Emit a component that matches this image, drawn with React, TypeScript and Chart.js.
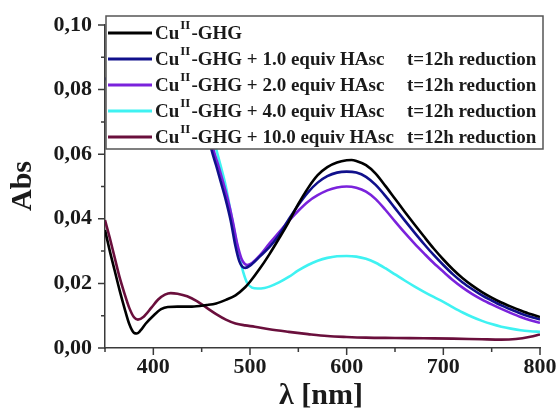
import { useEffect, useRef } from "react";
import { Chart, registerables } from "chart.js";

Chart.register(...registerables);

// ---- data (wavelength in nm, absorbance) ----
const blackX = [350, 355, 360, 365, 370, 375, 380, 383, 387, 392, 400, 408, 415, 425, 440, 455, 465, 475, 485, 495, 500, 510, 520, 530, 540, 550, 560, 570, 580, 590, 600, 605, 610, 620, 630, 640, 650, 660, 670, 680, 690, 700, 710, 720, 730, 740, 750, 760, 770, 780, 790, 800];
const blackY = [0.0365, 0.030, 0.024, 0.018, 0.0125, 0.0075, 0.0047, 0.0045, 0.0055, 0.0075, 0.0100, 0.0120, 0.0127, 0.0128, 0.0128, 0.0133, 0.0138, 0.0149, 0.0163, 0.0188, 0.0205, 0.0245, 0.0290, 0.0339, 0.0390, 0.0446, 0.0495, 0.0535, 0.0560, 0.0574, 0.0581, 0.0582, 0.0579, 0.0566, 0.0540, 0.0502, 0.0462, 0.0422, 0.0383, 0.0345, 0.0308, 0.0274, 0.0243, 0.0216, 0.0193, 0.0173, 0.0156, 0.0141, 0.0128, 0.0116, 0.0105, 0.0096];

const blueX = [350, 370, 400, 430, 450, 460, 465, 470, 475, 480, 485, 489, 492, 495, 500, 510, 520, 530, 540, 550, 560, 570, 580, 590, 600, 610, 620, 630, 640, 650, 660, 670, 680, 690, 700, 710, 720, 730, 740, 750, 760, 770, 780, 790, 800];
const blueY = [0.083, 0.090, 0.097, 0.094, 0.076, 0.0616, 0.0565, 0.0512, 0.0458, 0.0395, 0.0315, 0.0268, 0.0252, 0.0248, 0.0255, 0.0283, 0.0312, 0.0350, 0.0398, 0.0443, 0.0482, 0.0512, 0.0532, 0.0543, 0.0546, 0.0543, 0.0530, 0.0505, 0.0471, 0.0433, 0.0395, 0.0358, 0.0322, 0.0288, 0.0257, 0.0228, 0.0203, 0.0182, 0.0163, 0.0147, 0.0132, 0.0119, 0.0107, 0.0097, 0.0088];

const purpleX = [350, 400, 440, 455, 462, 467, 472, 477, 482, 487, 491, 494, 497, 502, 510, 520, 530, 540, 550, 560, 570, 580, 590, 600, 610, 620, 630, 640, 650, 660, 670, 680, 690, 700, 710, 720, 730, 740, 750, 760, 770, 780, 790, 800];
const purpleY = [0.105, 0.110, 0.095, 0.072, 0.0616, 0.0568, 0.0515, 0.0460, 0.0395, 0.0320, 0.0278, 0.0262, 0.0257, 0.0263, 0.0286, 0.0323, 0.0358, 0.0393, 0.0425, 0.0453, 0.0473, 0.0488, 0.0497, 0.0500, 0.0496, 0.0484, 0.0461, 0.0428, 0.0392, 0.0357, 0.0324, 0.0293, 0.0263, 0.0236, 0.0210, 0.0187, 0.0167, 0.0150, 0.0135, 0.0121, 0.0108, 0.0096, 0.0086, 0.0078];

const cyanX = [350, 400, 440, 455, 465, 470, 475, 479, 484, 489, 493, 497, 502, 508, 515, 520, 530, 540, 550, 560, 570, 580, 590, 600, 610, 620, 630, 640, 650, 660, 670, 680, 690, 700, 710, 720, 730, 740, 750, 760, 770, 780, 790, 800];
const cyanY = [0.120, 0.115, 0.090, 0.073, 0.0616, 0.0560, 0.0500, 0.0437, 0.0360, 0.0283, 0.0235, 0.0202, 0.0187, 0.0184, 0.0186, 0.0190, 0.0203, 0.0220, 0.0240, 0.0257, 0.0270, 0.0279, 0.0284, 0.0285, 0.0283, 0.0276, 0.0264, 0.0247, 0.0228, 0.0209, 0.0191, 0.0174, 0.0158, 0.0143, 0.0126, 0.0110, 0.0096, 0.0084, 0.0074, 0.0066, 0.0060, 0.0055, 0.0052, 0.0050];

const maroonX = [350, 355, 360, 365, 370, 375, 380, 384, 390, 398, 405, 412, 418, 425, 435, 445, 455, 465, 475, 485, 495, 505, 520, 540, 560, 580, 600, 620, 650, 680, 710, 740, 760, 775, 790, 800];
const maroonY = [0.0396, 0.034, 0.028, 0.022, 0.017, 0.0125, 0.0095, 0.0088, 0.0097, 0.0125, 0.0150, 0.0165, 0.0170, 0.0168, 0.0160, 0.0145, 0.0125, 0.0105, 0.0088, 0.0076, 0.0070, 0.0066, 0.0058, 0.0050, 0.0043, 0.0037, 0.0034, 0.0032, 0.0031, 0.0030, 0.0029, 0.0027, 0.0026, 0.0028, 0.0035, 0.0042];

const seriesX = [blackX, blueX, purpleX, cyanX, maroonX];
const seriesY = [blackY, blueY, purpleY, cyanY, maroonY];
const seriesColors = ["#000000", "#10108c", "#7a22dc", "#3ff2f2", "#6a0f3c"];
const seriesNames = [
  "-GHG",
  "-GHG + 1.0 equiv HAsc",
  "-GHG + 2.0 equiv HAsc",
  "-GHG + 4.0 equiv HAsc",
  "-GHG + 10.0 equiv HAsc",
];
const seriesNotes = ["", "t=12h reduction", "t=12h reduction", "t=12h reduction", "t=12h reduction"];

const xMajorTicks = [400, 500, 600, 700, 800];
const xMinorTicks = [350, 450, 550, 650, 750];
const yMajorTicks = [0, 0.02, 0.04, 0.06, 0.08, 0.1];
const yMinorTicks = [0.01, 0.03, 0.05, 0.07, 0.09];

const FONT = "'Liberation Serif', 'Times New Roman', serif";
const AXIS = "#3a3a3a";
const TEXT = "#1a1a1a";

const decorPlugin = {
  id: "decor",
  afterDraw(chart: any) {
    const ctx = chart.ctx as CanvasRenderingContext2D;
    const xs = chart.scales.x;
    const ys = chart.scales.y;
    const { left, bottom } = chart.chartArea;
    ctx.save();
    // tick marks
    ctx.strokeStyle = AXIS;
    ctx.lineWidth = 1.5;
    ctx.beginPath();
    yMajorTicks.forEach((v) => {
      const y = ys.getPixelForValue(v);
      ctx.moveTo(left - 7, y);
      ctx.lineTo(left, y);
    });
    yMinorTicks.forEach((v) => {
      const y = ys.getPixelForValue(v);
      ctx.moveTo(left - 4, y);
      ctx.lineTo(left, y);
    });
    xMajorTicks.forEach((v) => {
      const x = xs.getPixelForValue(v);
      ctx.moveTo(x, bottom);
      ctx.lineTo(x, bottom + 7);
    });
    xMinorTicks.forEach((v) => {
      const x = xs.getPixelForValue(v);
      ctx.moveTo(x, bottom);
      ctx.lineTo(x, bottom + 4);
    });
    ctx.stroke();

    // axis titles
    ctx.fillStyle = TEXT;
    ctx.font = `bold 30px ${FONT}`;
    ctx.textAlign = "center";
    ctx.textBaseline = "middle";
    ctx.fillText("\u03bb [nm]", 321, 396);
    ctx.save();
    ctx.translate(23, 186);
    ctx.rotate(-Math.PI / 2);
    ctx.fillText("Abs", 0, 0);
    ctx.restore();

    // legend box
    const bL = 106, bT = 16, bR = 543, bB = 149;
    ctx.fillStyle = "#ffffff";
    ctx.fillRect(bL, bT, bR - bL, bB - bT);
    ctx.strokeStyle = "#555555";
    ctx.lineWidth = 1.5;
    ctx.strokeRect(bL, bT, bR - bL, bB - bT);
    seriesNames.forEach((name, i) => {
      const y = 33 + i * 26;
      ctx.strokeStyle = seriesColors[i];
      ctx.lineWidth = 3;
      ctx.beginPath();
      ctx.moveTo(108, y);
      ctx.lineTo(152, y);
      ctx.stroke();
      ctx.fillStyle = TEXT;
      ctx.textAlign = "left";
      ctx.textBaseline = "middle";
      let x = 155;
      ctx.font = `bold 19px ${FONT}`;
      ctx.fillText("Cu", x, y + 1);
      x += ctx.measureText("Cu").width + 1;
      ctx.font = `bold 13px ${FONT}`;
      ctx.fillText("II", x, y - 7);
      x += ctx.measureText("II").width + 1;
      ctx.font = `bold 19px ${FONT}`;
      ctx.fillText(name, x, y + 1);
      if (seriesNotes[i]) ctx.fillText(seriesNotes[i], 407, y + 1);
    });
    ctx.restore();
  },
};

export default function App() {
  const ref = useRef<HTMLCanvasElement>(null);
  useEffect(() => {
    if (!ref.current) return;
    const chart = new Chart(ref.current, {
      type: "line",
      data: {
        datasets: seriesY.map((ys, i) => ({
          label: seriesNames[i],
          data: ys.map((v, j) => ({ x: seriesX[i][j], y: v })),
          borderColor: seriesColors[i],
          backgroundColor: seriesColors[i],
          borderWidth: 2.6,
          pointRadius: 0,
          cubicInterpolationMode: "monotone" as const,
          fill: false,
        })),
      },
      options: {
        responsive: false,
        animation: false,
        devicePixelRatio: 1,
        layout: { padding: { top: 25, right: 19, left: 0, bottom: 0 } },
        plugins: { legend: { display: false }, tooltip: { enabled: false } },
        scales: {
          x: {
            type: "linear",
            min: 350,
            max: 800,
            grid: { display: false, drawTicks: false },
            border: { display: true, color: AXIS, width: 1.5 },
            afterBuildTicks: (s: any) => {
              s.ticks = xMajorTicks.map((v) => ({ value: v }));
            },
            afterFit: (s: any) => {
              s.height = 62;
              s.paddingLeft = 0;
              s.paddingRight = 0;
            },
            ticks: {
              color: TEXT,
              font: { family: FONT, weight: "bold", size: 22 },
              padding: 6,
              maxRotation: 0,
              callback: (v: any) => String(v),
            },
          },
          y: {
            type: "linear",
            min: 0,
            max: 0.1,
            grid: { display: false, drawTicks: false },
            border: { display: true, color: AXIS, width: 1.5 },
            afterBuildTicks: (s: any) => {
              s.ticks = yMajorTicks.map((v) => ({ value: v }));
            },
            afterFit: (s: any) => {
              s.width = 105;
              s.paddingTop = 0;
              s.paddingBottom = 0;
            },
            ticks: {
              color: TEXT,
              font: { family: FONT, weight: "bold", size: 22 },
              padding: 13,
              callback: (v: any) => Number(v).toFixed(2).replace(".", ","),
            },
          },
        },
      },
      plugins: [decorPlugin],
    });
    return () => chart.destroy();
  }, []);
  return (
    <canvas
      ref={ref}
      width={559}
      height={410}
      style={{ position: "absolute", left: 0, top: 0, display: "block" }}
    />
  );
}
